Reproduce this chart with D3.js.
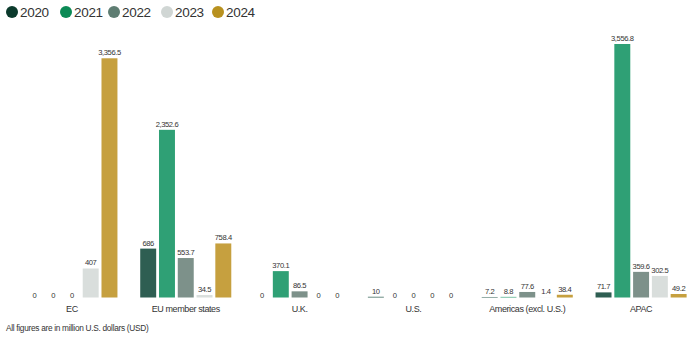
<!DOCTYPE html>
<html><head><meta charset="utf-8">
<script src="https://cdn.jsdelivr.net/npm/d3@7"></script>
<style>body{margin:0;background:#fff}svg{display:block}text{font-family:"Liberation Sans",Arial,sans-serif}</style>
</head><body>
<svg id="c" width="700" height="343"></svg>
<script>
const categories = ["EC","EU member states","U.K.","U.S.","Americas (excl. U.S.)","APAC"];
const years = ["2020","2021","2022","2023","2024"];
const v2020 = [0, 686, 0, 10, 7.2, 71.7];
const v2021 = [0, 2352.6, 370.1, 0, 8.8, 3556.8];
const v2022 = [0, 553.7, 86.5, 0, 77.6, 359.6];
const v2023 = [407, 34.5, 0, 0, 1.4, 302.5];
const v2024 = [3356.5, 758.4, 0, 0, 38.4, 49.2];
const labels2020 = ["0","686","0","10","7.2","71.7"];
const labels2021 = ["0","2,352.6","370.1","0","8.8","3,556.8"];
const labels2022 = ["0","553.7","86.5","0","77.6","359.6"];
const labels2023 = ["407","34.5","0","0","1.4","302.5"];
const labels2024 = ["3,356.5","758.4","0","0","38.4","49.2"];
const barColors = ["#2e5e52","#2fa075","#7d918a","#d9dedc","#c6a03f"];
const legendColors = ["#0b3a2c","#0b8a55","#5e7d72","#d0d6d4","#b8911f"];

const series = [v2020,v2021,v2022,v2023,v2024];
const labs = [labels2020,labels2021,labels2022,labels2023,labels2024];
const svg = d3.select("#c");
const baseY = 297.5;
const y = d3.scaleLinear().domain([0,3556.8]).range([baseY, 44]);
const x0 = d3.scaleBand().domain(categories).range([15, 698]).paddingInner(0.2).paddingOuter(0.1);
const x1 = d3.scaleBand().domain(years).range([0, x0.bandwidth()]).paddingInner(0.15);

const g = svg.append("g");
categories.forEach((c, ci) => {
  const gg = g.append("g").attr("transform", `translate(${x0(c)},0)`);
  years.forEach((yr, yi) => {
    const v = series[yi][ci];
    const bx = x1(yr);
    if (v > 0) {
      gg.append("rect").attr("x", bx).attr("width", x1.bandwidth())
        .attr("y", y(v)).attr("height", baseY - y(v))
        .attr("fill", barColors[yi]);
    }
    const ty = v > 0 ? Math.min(y(v), baseY - 1) - 3 : baseY;
    gg.append("text").attr("x", bx + x1.bandwidth()/2).attr("y", ty)
      .attr("text-anchor","middle").attr("font-size", 7.6).attr("fill","#333")
      .attr("letter-spacing","-0.4").text(labs[yi][ci]);
  });
  svg.append("text").attr("x", x0(c) + x0.bandwidth()/2).attr("y", 312)
    .attr("text-anchor","middle").attr("font-size", 9).attr("fill","#333")
    .attr("letter-spacing","-0.4").text(c);
});

// legend
const lx = [12, 66, 114, 167, 218];
years.forEach((yr, i) => {
  svg.append("circle").attr("cx", lx[i]).attr("cy", 12).attr("r", 6).attr("fill", legendColors[i]);
  svg.append("text").attr("x", lx[i] + 8).attr("y", 17).attr("font-size", 13.5)
    .attr("fill","#333").attr("letter-spacing","-0.3").text(yr);
});

svg.append("text").attr("x", 6).attr("y", 331).attr("font-size", 8.3)
  .attr("fill","#333").attr("letter-spacing","-0.3").text("All figures are in million U.S. dollars (USD)");
</script>
</body></html>
